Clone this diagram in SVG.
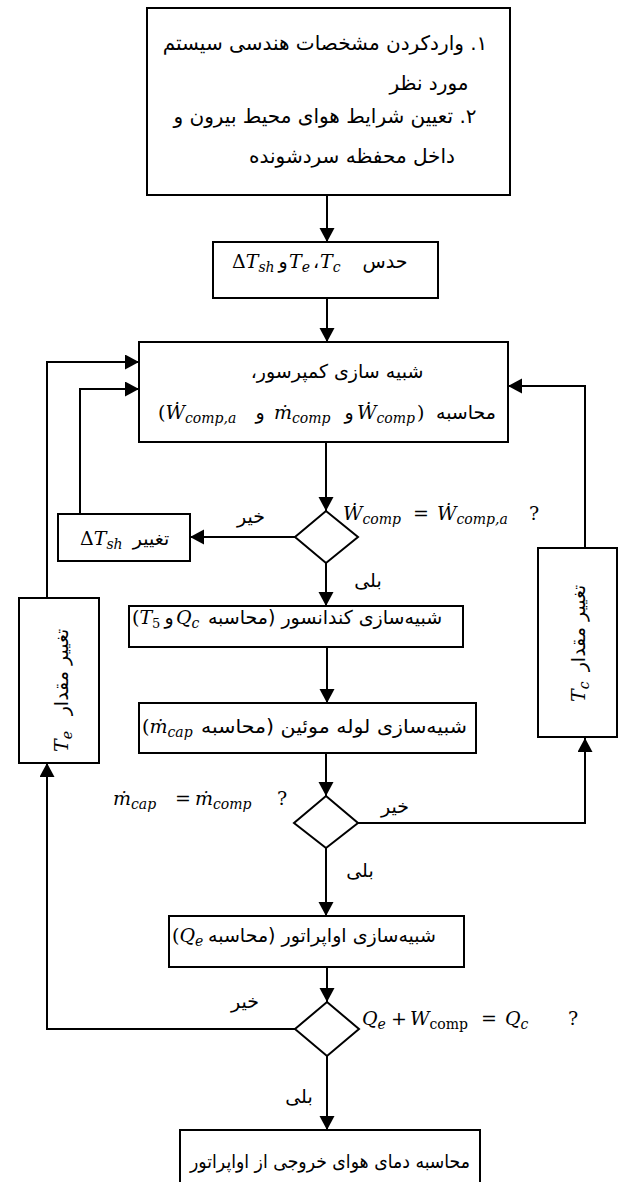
<svg xmlns="http://www.w3.org/2000/svg" width="620" height="1182" viewBox="0 0 620 1182">
<style>
.box{fill:#fff;stroke:#000;stroke-width:2}
.ln{fill:none;stroke:#000;stroke-width:2}
.fa{font-family:"DejaVu Sans",sans-serif;font-size:19px;direction:rtl;fill:#000}
.big{font-size:20px}
.m{font-family:"DejaVu Serif","Liberation Serif",serif;font-style:italic;font-size:19px;fill:#000}
.s{font-size:14px}
.u{font-style:normal}
</style>
<defs>
<marker id="ah" markerUnits="userSpaceOnUse" markerWidth="16" markerHeight="16" refX="14" refY="7.5" orient="auto">
<path d="M0,0 L14,7.5 L0,15 z" fill="#000"/>
</marker>
</defs>

<g id="connectors" class="ln">
<line x1="327" y1="195" x2="327" y2="242" marker-end="url(#ah)"/>
<line x1="327" y1="298" x2="327" y2="342" marker-end="url(#ah)"/>
<line x1="326" y1="442" x2="326" y2="511" marker-end="url(#ah)"/>
<line x1="295" y1="537" x2="190" y2="537" marker-end="url(#ah)"/>
<path d="M80,514 V389 H139" marker-end="url(#ah)"/>
<line x1="326" y1="563" x2="326" y2="606" marker-end="url(#ah)"/>
<line x1="327" y1="647" x2="327" y2="703" marker-end="url(#ah)"/>
<line x1="326" y1="753" x2="326" y2="796" marker-end="url(#ah)"/>
<path d="M358,823 H585 V738" marker-end="url(#ah)"/>
<path d="M585,548 V386 H508" marker-end="url(#ah)"/>
<line x1="326" y1="848" x2="326" y2="916" marker-end="url(#ah)"/>
<line x1="327" y1="967" x2="327" y2="1002" marker-end="url(#ah)"/>
<path d="M295,1029 H47 V763" marker-end="url(#ah)"/>
<path d="M47,598 V362 H139" marker-end="url(#ah)"/>
<line x1="327" y1="1056" x2="327" y2="1130" marker-end="url(#ah)"/>
</g>

<g id="input">
<rect class="box" x="147" y="8" width="363" height="187"/>
<text class="fa big" x="325" y="50" text-anchor="middle">۱. واردکردن مشخصات هندسی سیستم</text>
<text class="fa big" x="429" y="90" text-anchor="middle">مورد نظر</text>
<text class="fa big" x="325" y="123" text-anchor="middle">۲. تعیین شرایط هوای محیط بیرون و</text>
<text class="fa big" x="352" y="163" text-anchor="middle">داخل محفظه سردشونده</text>
</g>

<g id="guess">
<rect class="box" x="213" y="242" width="225" height="56"/>
<text class="m" x="232" y="268"><tspan class="u">Δ</tspan>T<tspan class="s" dy="4">sh</tspan></text>
<text class="fa" x="283" y="268" text-anchor="middle">و</text>
<text class="m" x="289" y="268">T<tspan class="s" dy="4">e</tspan></text>
<text class="fa" x="316" y="268" text-anchor="middle">،</text>
<text class="m" x="320" y="268">T<tspan class="s" dy="4">c</tspan></text>
<text class="fa" x="385" y="268" text-anchor="middle">حدس</text>
</g>

<g id="compressor">
<rect class="box" x="139" y="342" width="369" height="100"/>
<text class="fa" x="337" y="378" text-anchor="middle">شبیه سازی کمپرسور،</text>
<text class="m" x="158" y="419"><tspan class="u">(</tspan>Ẇ<tspan class="s" dy="4">comp,a</tspan></text>
<text class="fa" x="260" y="419" text-anchor="middle">و</text>
<text class="m" x="274" y="419">ṁ<tspan class="s" dy="4">comp</tspan></text>
<text class="fa" x="349" y="419" text-anchor="middle">و</text>
<text class="m" x="357" y="419">Ẇ<tspan class="s" dy="4">comp</tspan><tspan class="u" dy="-4" dx="2">)</tspan></text>
<text class="fa" x="466" y="419" text-anchor="middle">محاسبه</text>
</g>

<g id="check-power">
<polygon class="box" points="326,511 358,537 326,563 295,537"/>
<text class="m" x="343" y="520">Ẇ<tspan class="s" dy="4">comp</tspan></text>
<text class="m u" x="413" y="520">=</text>
<text class="m" x="437" y="520">Ẇ<tspan class="s" dy="4">comp,a</tspan></text>
<text class="m u" x="529" y="520">?</text>
<text class="fa" x="251" y="523" text-anchor="middle">خیر</text>
<text class="fa" x="368" y="587" text-anchor="middle">بلی</text>
</g>

<g id="change-superheat">
<rect class="box" x="58" y="514" width="132" height="47"/>
<text class="m" x="80" y="545"><tspan class="u">Δ</tspan>T<tspan class="s" dy="4">sh</tspan></text>
<text class="fa" x="151" y="545" text-anchor="middle">تغییر</text>
</g>

<g id="condenser">
<rect class="box" x="129" y="606" width="334" height="41"/>
<text class="m" x="132" y="624"><tspan class="u">(</tspan>T<tspan class="s u" dy="4" style="font-size:13px">5</tspan></text>
<text class="fa" x="169" y="624" text-anchor="middle">و</text>
<text class="m" x="176" y="624">Q<tspan class="s" dy="4">c</tspan></text>
<text class="fa" x="325" y="624" text-anchor="middle">شبیه‌سازی کندانسور (محاسبه</text>
</g>

<g id="capillary">
<rect class="box" x="139" y="703" width="337" height="50"/>
<text class="m" x="142" y="733"><tspan class="u">(</tspan>ṁ<tspan class="s" dy="4">cap</tspan></text>
<text class="fa" x="334" y="733" text-anchor="middle" textLength="266" lengthAdjust="spacingAndGlyphs">شبیه‌سازی لوله موئین (محاسبه</text>
</g>

<g id="check-mass">
<polygon class="box" points="326,796 358,823 326,848 294,823"/>
<text class="m" x="113" y="805">ṁ<tspan class="s" dy="4">cap</tspan></text>
<text class="m u" x="175" y="805">=</text>
<text class="m" x="195" y="805">ṁ<tspan class="s" dy="4">comp</tspan></text>
<text class="m u" x="277" y="805">?</text>
<text class="fa" x="395" y="813" text-anchor="middle">خیر</text>
<text class="fa" x="360" y="877" text-anchor="middle">بلی</text>
</g>

<g id="change-tc">
<rect class="box" x="538" y="548" width="79" height="189"/>
<g transform="translate(577,641) rotate(-90)">
<text class="m" x="-61" y="8">T<tspan class="s" dy="4">c</tspan></text>
<text class="fa" x="13" y="8" text-anchor="middle">تغییر مقدار</text>
</g>
</g>

<g id="evaporator">
<rect class="box" x="169" y="916" width="295" height="51"/>
<text class="m" x="172" y="942"><tspan class="u">(</tspan>Q<tspan class="s" dy="4">e</tspan></text>
<text class="fa" x="322" y="942" text-anchor="middle">شبیه‌سازی اواپراتور (محاسبه</text>
</g>

<g id="check-energy">
<polygon class="box" points="327,1002 359,1029 327,1056 295,1029"/>
<text class="m" x="362" y="1025">Q<tspan class="s" dy="4">e</tspan></text>
<text class="m u" x="391" y="1025">+</text>
<text class="m" x="410" y="1025">W<tspan class="s u" dy="4">comp</tspan></text>
<text class="m u" x="481" y="1025">=</text>
<text class="m" x="505" y="1025">Q<tspan class="s" dy="4">c</tspan></text>
<text class="m u" x="568" y="1025">?</text>
<text class="fa" x="245" y="1008" text-anchor="middle">خیر</text>
<text class="fa" x="299" y="1103" text-anchor="middle">بلی</text>
</g>

<g id="change-te">
<rect class="box" x="19" y="598" width="80" height="165"/>
<g transform="translate(59,688) rotate(-90)">
<text class="m" x="-64" y="9">T<tspan class="s" dy="4">e</tspan></text>
<text class="fa" x="16" y="9" text-anchor="middle">تغییر مقدار</text>
</g>
</g>

<g id="outlet">
<rect class="box" x="180" y="1130" width="300" height="60"/>
<text class="fa" x="330" y="1168" text-anchor="middle" textLength="280" lengthAdjust="spacingAndGlyphs">محاسبه دمای هوای خروجی از اواپراتور</text>
</g>
</svg>
